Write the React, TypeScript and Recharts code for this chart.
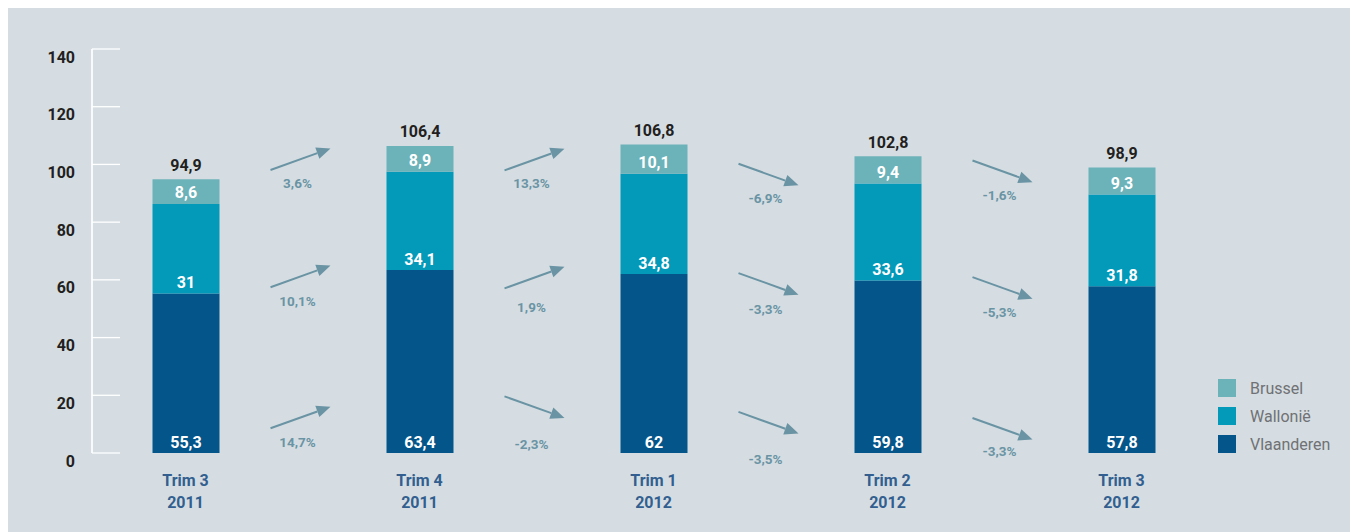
import React from "react";
import { BarChart, Bar, XAxis, YAxis, LabelList, ReferenceDot } from "recharts";

const categories = ["Trim 3 2011", "Trim 4 2011", "Trim 1 2012", "Trim 2 2012", "Trim 3 2012"];
const vlaanderen = [55.3, 63.4, 62, 59.8, 57.8];
const wallonie = [31, 34.1, 34.8, 33.6, 31.8];
const brussel = [8.6, 8.9, 10.1, 9.4, 9.3];
const totals = [94.9, 106.4, 106.8, 102.8, 98.9];
const yTicks = [0, 20, 40, 60, 80, 100, 120, 140];

// change versus the previous quarter, one value per gap between two bars
const changeBrussel = [3.6, 13.3, -6.9, -1.6];
const changeWallonie = [10.1, 1.9, -3.3, -5.3];
const changeVlaanderen = [14.7, -2.3, -3.5, -3.3];

// annotation layout: height (axis units) of each arrow and of its % label
const arrowAtBrussel = [101.8, 101.7, 96.5, 97.6];
const arrowAtWallonie = [61.2, 60.8, 58.6, 57.2];
const arrowAtVlaanderen = [12.3, 15.9, 10.5, 8.4];
const labelAtBrussel = [93.7, 93.7, 88.5, 89.4];
const labelAtWallonie = [52.8, 50.7, 49.9, 49.0];
const labelAtVlaanderen = [3.9, 3.0, -2.2, 0.7];

const FONT = "Roboto, sans-serif";
const ARROW = "#6a94a4";

const W = 1350;
const H = 524;
const MARGIN = { top: 41, right: 119.5, bottom: 30, left: 0 };
const Y_WIDTH = 60.5;
// width of one category band, so the arrows can sit halfway between two bars
const BAND = (W - MARGIN.left - MARGIN.right - Y_WIDTH) / categories.length;

const data = categories.map((name, i) => ({
  name,
  vlaanderen: vlaanderen[i],
  wallonie: wallonie[i],
  brussel: brussel[i],
  total: totals[i],
}));

const series = [
  { key: "vlaanderen", name: "Vlaanderen", color: "#04568a", change: changeVlaanderen, arrowAt: arrowAtVlaanderen, labelAt: labelAtVlaanderen },
  { key: "wallonie", name: "Wallonië", color: "#0399b9", change: changeWallonie, arrowAt: arrowAtWallonie, labelAt: labelAtWallonie },
  { key: "brussel", name: "Brussel", color: "#6cb2b9", change: changeBrussel, arrowAt: arrowAtBrussel, labelAt: labelAtBrussel },
];

const fmt = (v: number) => String(v).replace(".", ",");

function YTick(props: any) {
  const { x, y, payload, height } = props;
  const lineX = x + 23.5;
  return (
    <g>
      {payload.value === 0 && height ? (
        <line x1={lineX} x2={lineX} y1={y} y2={y - height} stroke="#fff" strokeWidth={1.7} />
      ) : null}
      <line x1={lineX} x2={lineX + 28} y1={y} y2={y} stroke="#fff" strokeWidth={1.3} />
      <text x={x + 6.5} y={y + 8} textAnchor="end" dominantBaseline="central" fill="#231f20" fontFamily={FONT} fontWeight={700} fontSize={16}>
        {payload.value}
      </text>
    </g>
  );
}

function XTick(props: any) {
  const { x, y, payload } = props;
  const label = String(payload.value);
  const cut = label.lastIndexOf(" ");
  const style = { fill: "#325f8f", fontFamily: FONT, fontWeight: 700, fontSize: 16 };
  return (
    <g>
      <text x={x} y={y + 27} textAnchor="middle" dominantBaseline="central" {...style}>{label.slice(0, cut)}</text>
      <text x={x} y={y + 49} textAnchor="middle" dominantBaseline="central" {...style}>{label.slice(cut + 1)}</text>
    </g>
  );
}

const box = (p: any) => {
  const vb = p.viewBox || {};
  return { x: p.x ?? vb.x, y: p.y ?? vb.y, width: p.width ?? vb.width, height: p.height ?? vb.height };
};

const segmentLabel = (p: any) => {
  const { x, y, width, height } = box(p);
  return (
    <text x={x + width / 2} y={y + height - 11} textAnchor="middle" dominantBaseline="central" fill="#fff" fontFamily={FONT} fontWeight={700} fontSize={16}>
      {fmt(p.value)}
    </text>
  );
};

const totalLabel = (p: any) => {
  const { x, y, width } = box(p);
  return (
    <text x={x + width / 2} y={y - 14} textAnchor="middle" dominantBaseline="central" fill="#231f20" fontFamily={FONT} fontWeight={700} fontSize={16}>
      {fmt(p.value)}
    </text>
  );
};

function Arrow(props: any) {
  const { cx, cy, up } = props;
  const half = 30;
  const rise = 10.8;
  const x1 = cx - half;
  const x2 = cx + half;
  const y1 = up ? cy + rise : cy - rise;
  const y2 = up ? cy - rise : cy + rise;
  const len = Math.hypot(x2 - x1, y2 - y1);
  const ux = (x2 - x1) / len;
  const uy = (y2 - y1) / len;
  const bx = x2 - ux * 14;
  const by = y2 - uy * 14;
  const px = -uy * 6;
  const py = ux * 6;
  return (
    <g>
      <line x1={x1} y1={y1} x2={bx} y2={by} stroke={ARROW} strokeWidth={2} />
      <polygon points={`${x2},${y2} ${bx + px},${by + py} ${bx - px},${by - py}`} fill={ARROW} />
    </g>
  );
}

function Legend() {
  const items = [...series].reverse();
  return (
    <div style={{ position: "absolute", left: 1210, top: 366 }}>
      {items.map((s) => (
        <div key={s.key} style={{ display: "flex", alignItems: "center", height: 28 }}>
          <div style={{ width: 18, height: 18, background: s.color, marginRight: 14 }} />
          <span style={{ fontFamily: FONT, fontSize: 16, color: "#707174" }}>{s.name}</span>
        </div>
      ))}
    </div>
  );
}

export default function App() {
  return (
    <div style={{ position: "relative", width: W, height: H, background: "#d5dde2" }}>
      <BarChart width={W} height={H} data={data} margin={MARGIN}>
        <XAxis dataKey="name" axisLine={false} tickLine={false} tickSize={0} tickMargin={0} height={49} interval={0} tick={<XTick />} />
        <YAxis
          domain={[0, 140]}
          ticks={yTicks}
          interval={0}
          width={Y_WIDTH}
          axisLine={false}
          tickLine={false}
          tickSize={0}
          tickMargin={0}
          allowDataOverflow
          tick={<YTick />}
        />
        {series.map((s, si) => (
          <Bar key={s.key} dataKey={s.key} name={s.name} stackId="a" fill={s.color} barSize={67} isAnimationActive={false}>
            <LabelList dataKey={s.key} content={segmentLabel} />
            {si === series.length - 1 ? <LabelList dataKey="total" content={totalLabel} /> : null}
          </Bar>
        ))}
        {series.flatMap((s) =>
          s.change.map((c, i) => (
            <ReferenceDot
              key={`arrow-${s.key}-${i}`}
              x={categories[i]}
              y={s.arrowAt[i]}
              ifOverflow="visible"
              shape={(p: any) => <Arrow cx={p.cx + BAND / 2 - 2} cy={p.cy} up={c > 0} />}
            />
          ))
        )}
        {series.flatMap((s) =>
          s.change.map((c, i) => (
            <ReferenceDot
              key={`pct-${s.key}-${i}`}
              x={categories[i]}
              y={s.labelAt[i]}
              ifOverflow="visible"
              shape={(p: any) => (
                <text x={p.cx + BAND / 2 - 5} y={p.cy} textAnchor="middle" dominantBaseline="central" fill={ARROW} fontFamily={FONT} fontWeight={700} fontSize={13.5}>
                  {fmt(c)}%
                </text>
              )}
            />
          ))
        )}
      </BarChart>
      <Legend />
    </div>
  );
}
